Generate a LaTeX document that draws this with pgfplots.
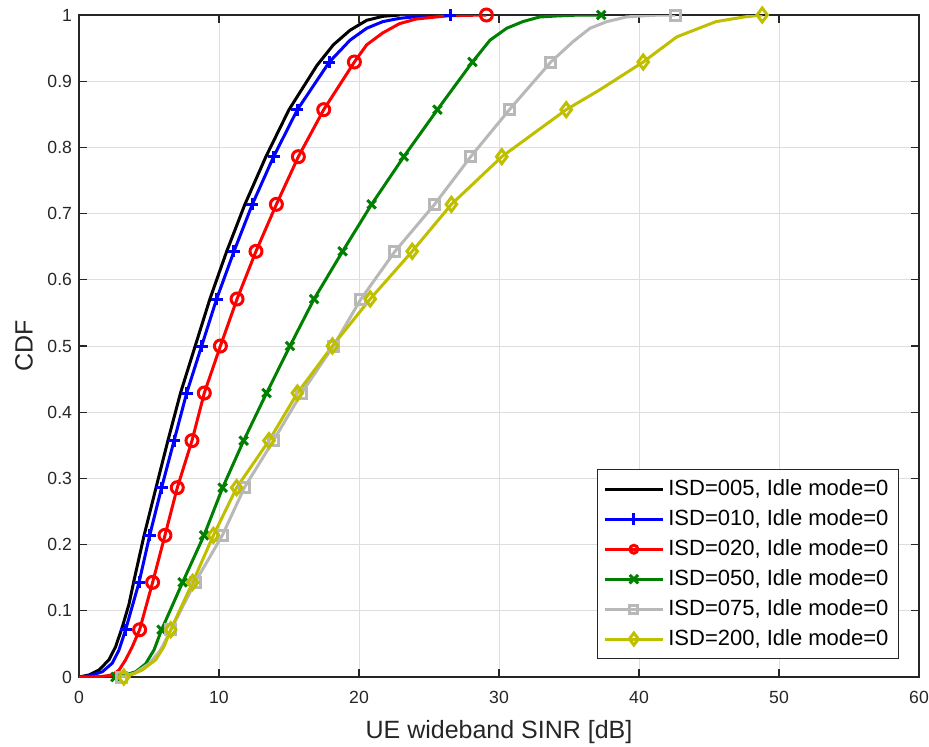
\documentclass[border=0pt]{standalone}
\usepackage{fontspec}
\setmainfont{Liberation Sans}
\usepackage{pgfplots}
\pgfplotsset{compat=1.18}
\usetikzlibrary{calc}
\definecolor{mgreen}{rgb}{0,0.5,0}
\definecolor{mgray}{rgb}{0.72,0.72,0.72}
\definecolor{myellow}{rgb}{0.75,0.75,0}
\definecolor{axgray}{rgb}{0.15,0.15,0.15}
\definecolor{gridgray}{rgb}{0.87,0.87,0.87}
\begin{document}
\begin{tikzpicture}
\begin{axis}[
  width=420pt, height=331pt, scale only axis,
  xmin=0, xmax=60, ymin=0, ymax=1,
  xtick={0,10,20,30,40,50,60},
  ytick={0,0.1,0.2,0.3,0.4,0.5,0.6,0.7,0.8,0.9,1},
  /pgf/number format/assume math mode=true,
  tick label style={font=\fontsize{8.8}{10}\selectfont, text=axgray},
  xticklabel style={yshift=-3.5pt},
  grid=major, grid style={gridgray, line width=0.5pt},
  tick align=inside, major tick length=4pt,
  axis line style={axgray, line width=0.6pt},
  tick style={axgray, line width=0.6pt},
  xlabel={UE wideband SINR [dB]},
  ylabel={CDF},
  label style={font=\fontsize{12.5}{15}\selectfont, text=axgray},
  xlabel style={at={(axis description cs:0.5,-0.083)}, anchor=center},
  ylabel style={at={(axis description cs:-0.0655,0.5)}, anchor=center},
  legend style={at={(rel axis cs:1,0)}, anchor=south east, xshift=-10pt, yshift=9pt,
    font=\fontsize{11}{13}\selectfont, draw=axgray, line width=0.5pt, row sep=1.5pt,
    inner xsep=3pt, inner ysep=3pt},
  legend cell align=left,
  legend image code/.code={\draw[mark repeat=2,mark phase=2] plot coordinates {(0pt,0pt) (14.5pt,0pt) (29pt,0pt)};},
  every axis plot/.append style={line width=1.5pt},
]
\coordinate (sw) at (rel axis cs:0,0);
\coordinate (ne) at (rel axis cs:1,1);
% ISD=005
\addplot[black, no marks, forget plot] coordinates {
(0,0) (0.7,0.003) (1.43,0.0106) (2.14,0.026) (2.62,0.046) (3.1,0.076) (3.57,0.11) (3.93,0.146) (4.65,0.214) (5.5,0.286) (6.35,0.357) (7.25,0.429) (8.3,0.5) (9.35,0.571) (10.55,0.643) (11.85,0.714) (13.35,0.786) (15.0,0.857) (17.0,0.924) (18.17,0.955) (19.36,0.977) (20.55,0.992) (21.7,0.998) (22.9,1)};
% ISD=010
\addplot[blue, no marks, forget plot] coordinates {
(0,0) (0.8,0.002) (1.67,0.008) (2.38,0.021) (2.86,0.041) (3.33,0.0714) (4.29,0.143) (5.05,0.214) (5.9,0.286) (6.79,0.357) (7.69,0.429) (8.76,0.5) (9.83,0.571) (11.07,0.643) (12.38,0.714) (13.9,0.786) (15.6,0.857) (17.88,0.929) (19.36,0.962) (20.55,0.98) (21.7,0.99) (22.9,0.995) (24.6,0.9985) (25.8,1) (26.5,1)};
\addplot[blue, only marks, mark=+, mark size=3pt, forget plot] coordinates {
(3.33,0.0714) (4.29,0.143) (5.05,0.214) (5.9,0.286) (6.79,0.357) (7.69,0.429) (8.76,0.5) (9.83,0.571) (11.07,0.643) (12.38,0.714) (13.9,0.786) (15.6,0.857) (17.88,0.929) (26.5,1)};
% ISD=020
\addplot[red, no marks, forget plot] coordinates {
(0,0) (1.5,0.0005) (2.38,0.003) (2.86,0.0106) (3.33,0.026) (3.81,0.046) (4.33,0.0714) (5.26,0.143) (6.14,0.214) (7.02,0.286) (8.07,0.357) (8.95,0.429) (10.1,0.5) (11.29,0.571) (12.64,0.643) (14.1,0.714) (15.67,0.786) (17.48,0.857) (19.67,0.929) (20.55,0.955) (21.7,0.973) (22.9,0.987) (24.1,0.994) (25.5,0.997) (26.5,0.999) (29.1,1)};
\addplot[red, only marks, mark=o, mark size=3pt, forget plot] coordinates {
(4.33,0.0714) (5.26,0.143) (6.14,0.214) (7.02,0.286) (8.07,0.357) (8.95,0.429) (10.1,0.5) (11.29,0.571) (12.64,0.643) (14.1,0.714) (15.67,0.786) (17.48,0.857) (19.67,0.929) (29.1,1)};
% ISD=050
\addplot[mgreen, no marks, forget plot] coordinates {
(2.6,0) (3.3,0.003) (4.05,0.008) (4.76,0.02) (5.36,0.041) (5.9,0.0714) (7.4,0.143) (8.93,0.214) (10.26,0.286) (11.76,0.357) (13.4,0.429) (15.07,0.5) (16.79,0.571) (18.83,0.643) (20.9,0.714) (23.2,0.786) (25.6,0.857) (28.1,0.929) (29.36,0.962) (30.55,0.98) (31.7,0.99) (32.9,0.997) (34.1,0.9985) (35.8,1) (37.3,1)};
\addplot[mgreen, only marks, mark=x, mark size=3pt, forget plot] coordinates {
(2.6,0) (5.9,0.0714) (7.4,0.143) (8.93,0.214) (10.26,0.286) (11.76,0.357) (13.4,0.429) (15.07,0.5) (16.79,0.571) (18.83,0.643) (20.9,0.714) (23.2,0.786) (25.6,0.857) (28.1,0.929) (37.3,1)};
% ISD=075
\addplot[mgray, no marks, forget plot] coordinates {
(3.0,0) (4,0.006) (5,0.02) (5.8,0.04) (6.57,0.0714) (8.29,0.143) (10.24,0.214) (11.81,0.286) (13.88,0.357) (15.9,0.429) (18.17,0.5) (20.14,0.571) (22.57,0.643) (25.4,0.714) (27.98,0.786) (30.74,0.857) (33.7,0.929) (35.3,0.96) (36.5,0.98) (37.7,0.99) (39.1,0.997) (40.1,0.9985) (41.5,1) (42.6,1)};
\addplot[mgray, only marks, mark=square, mark size=2.5pt, forget plot] coordinates {
(3.0,0) (6.57,0.0714) (8.29,0.143) (10.24,0.214) (11.81,0.286) (13.88,0.357) (15.9,0.429) (18.17,0.5) (20.14,0.571) (22.57,0.643) (25.4,0.714) (27.98,0.786) (30.74,0.857) (33.7,0.929) (42.6,1)};
% ISD=200
\addplot[myellow, no marks, forget plot] coordinates {
(3.2,0) (3.8,0.004) (4.52,0.0106) (5.48,0.026) (6.07,0.046) (6.55,0.0714) (8.12,0.143) (9.6,0.214) (11.26,0.286) (13.57,0.357) (15.6,0.429) (18.1,0.5) (20.8,0.571) (23.8,0.643) (26.6,0.714) (30.2,0.786) (34.8,0.857) (37.2,0.887) (40.3,0.929) (42.7,0.967) (45.5,0.99) (47.5,0.997) (48.8,1)};
\addplot[myellow, only marks, mark=diamond, mark size=3.5pt, forget plot] coordinates {
(3.2,0) (6.55,0.0714) (8.12,0.143) (9.6,0.214) (11.26,0.286) (13.57,0.357) (15.6,0.429) (18.1,0.5) (20.8,0.571) (23.8,0.643) (26.6,0.714) (30.2,0.786) (34.8,0.857) (40.3,0.929) (48.8,1)};
% legend
\addlegendimage{black, line width=1.5pt}
\addlegendentry{ISD=005, Idle mode=0}
\addlegendimage{blue, line width=1.5pt, mark=+, mark size=3pt}
\addlegendentry{ISD=010, Idle mode=0}
\addlegendimage{red, line width=1.5pt, mark=o, mark size=2pt}
\addlegendentry{ISD=020, Idle mode=0}
\addlegendimage{mgreen, line width=1.5pt, mark=x, mark size=3pt}
\addlegendentry{ISD=050, Idle mode=0}
\addlegendimage{mgray, line width=1.5pt, mark=square, mark size=2pt}
\addlegendentry{ISD=075, Idle mode=0}
\addlegendimage{myellow, line width=1.5pt, mark=diamond, mark size=3pt}
\addlegendentry{ISD=200, Idle mode=0}
\end{axis}
\pgfresetboundingbox
\path ($(sw)+(-39.5pt,-34.5pt)$) rectangle ($(ne)+(5pt,7.5pt)$);
\end{tikzpicture}
\end{document}
